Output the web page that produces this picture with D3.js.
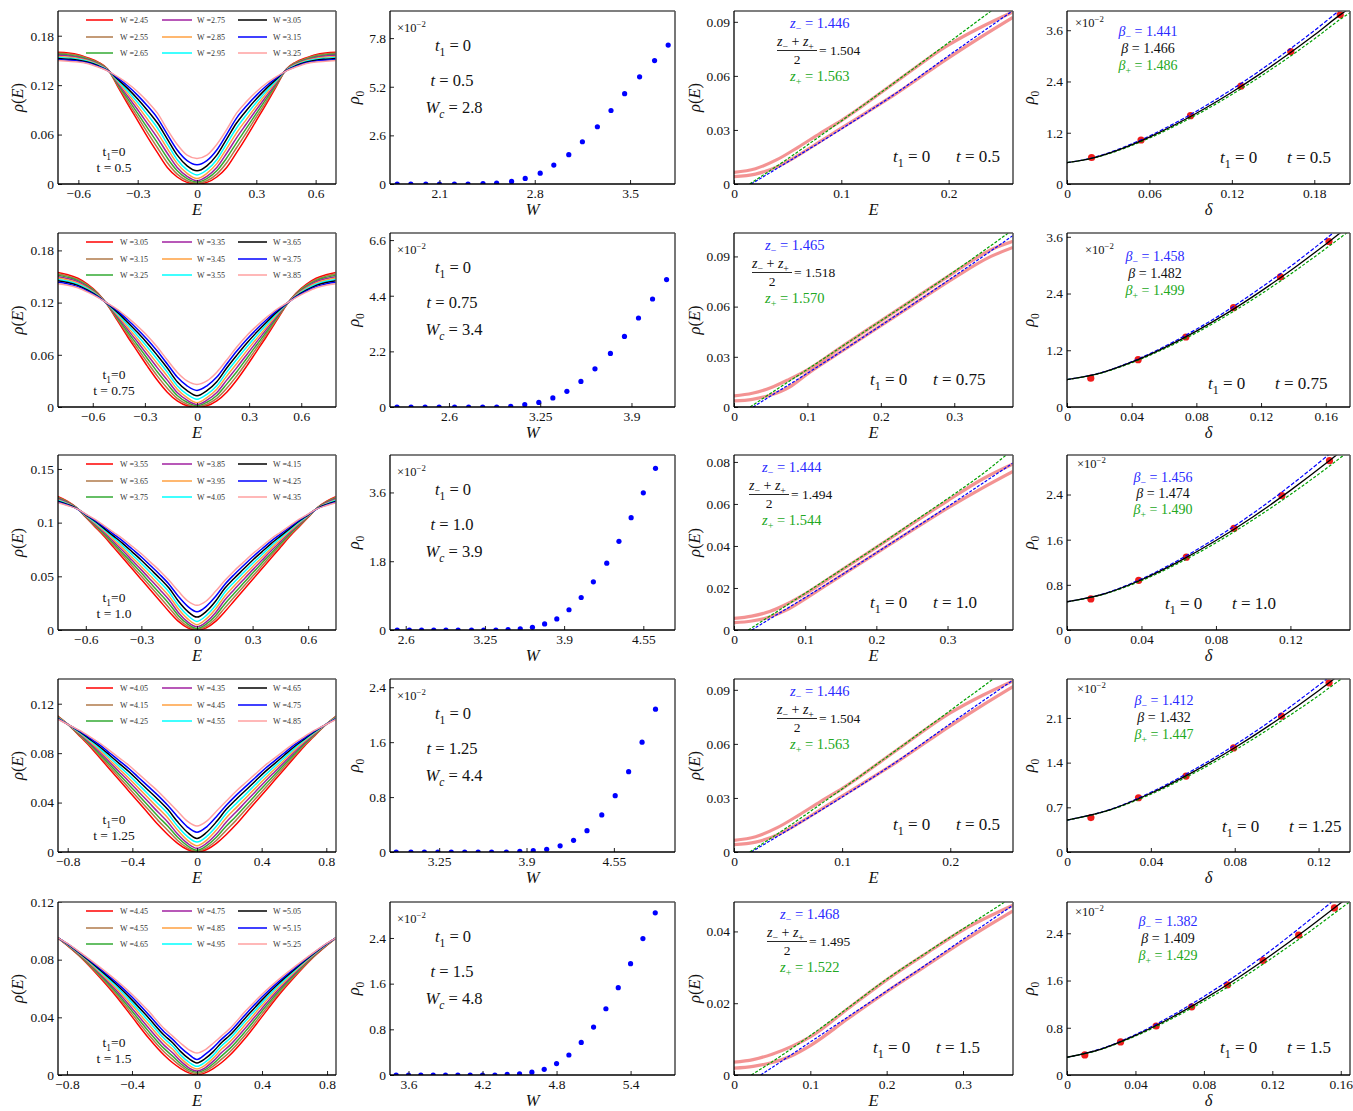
<!DOCTYPE html>
<html><head><meta charset="utf-8">
<script src="https://cdn.jsdelivr.net/npm/d3@7"></script>
<style>
body{margin:0;background:#fff;}
svg text{font-family:"Liberation Serif","Times New Roman",serif;}
</style></head><body>
<svg id="c" width="1353" height="1111"></svg>
<script>
// ---------------- DATA ----------------
const tValues = ['0.5','0.75','1.0','1.25','1.5'];
const wcValues = ['2.8','3.4','3.9','4.4','4.8'];
const curveColors = ['#ff0000','#b07a4a','#33aa33','#a020a0','#ffa040','#00ffff','#000000','#0000ff','#ffa0a0'];

// column 1: rho(E) curves, E >= 0 (curves are symmetric); rows = E slices, columns = W
const legendW1 = ['2.45','2.55','2.65','2.75','2.85','2.95','3.05','3.15','3.25'];
const legendW2 = ['3.05','3.15','3.25','3.35','3.45','3.55','3.65','3.75','3.85'];
const legendW3 = ['3.55','3.65','3.75','3.85','3.95','4.05','4.15','4.25','4.35'];
const legendW4 = ['4.05','4.15','4.25','4.35','4.45','4.55','4.65','4.75','4.85'];
const legendW5 = ['4.45','4.55','4.65','4.75','4.85','4.95','5.05','5.15','5.25'];

const dosE1 = [0,.05,.1,.15,.2,.25,.3,.35,.4,.45,.5,.55,.6,.65,.71];
const dosRho1 = [
 [0,.001,.0025,.004,.0067,.011,.016,.0235,.031],
 [.002,.004,.0066,.0093,.0129,.0172,.0221,.0284,.035],
 [.0085,.012,.016,.020,.0247,.0294,.035,.0413,.048],
 [.020,.0258,.0315,.0373,.043,.0488,.0545,.0603,.066],
 [.038,.044,.050,.056,.062,.068,.074,.080,.086],
 [.057,.0624,.0678,.0731,.0785,.0839,.0893,.0946,.100],
 [.077,.0814,.0858,.0901,.0945,.0989,.1033,.1076,.112],
 [.097,.1001,.1033,.1064,.1095,.1126,.1158,.1189,.122],
 [.118,.1195,.121,.1225,.124,.1255,.127,.1285,.130],
 [.139,.1388,.1385,.1383,.138,.1378,.1375,.1373,.137],
 [.148,.1473,.1465,.1458,.145,.1443,.1435,.1428,.142],
 [.153,.1521,.1513,.1504,.1495,.1486,.1478,.1469,.146],
 [.157,.1559,.1548,.1536,.1525,.1514,.1503,.1491,.148],
 [.159,.1578,.1565,.1553,.154,.1528,.1515,.1503,.149],
 [.160,.1588,.1575,.1563,.155,.1538,.1525,.1513,.150]
];
const dosE2 = [0,.057,.114,.171,.229,.286,.343,.4,.457,.514,.571,.629,.686,.743,.81];
const dosRho2 = [
 [0,.0005,.0015,.003,.005,.009,.013,.019,.026],
 [.0015,.0032,.0055,.0078,.0109,.0146,.0189,.0243,.030],
 [.007,.010,.0133,.0166,.0205,.0245,.0291,.0344,.040],
 [.017,.0216,.0263,.0309,.0355,.0401,.0448,.0494,.054],
 [.031,.0358,.0405,.0453,.050,.0548,.0595,.0643,.069],
 [.047,.0514,.0558,.0601,.0645,.0689,.0733,.0776,.082],
 [.064,.0676,.0713,.0749,.0785,.0821,.0858,.0894,.093],
 [.081,.0838,.0865,.0893,.092,.0948,.0975,.1003,.103],
 [.099,.1006,.1023,.1039,.1055,.1071,.1088,.1104,.112],
 [.117,.1173,.1175,.1178,.118,.1183,.1185,.1188,.119],
 [.131,.1304,.1298,.1291,.1285,.1279,.1273,.1266,.126],
 [.141,.1399,.1388,.1376,.1365,.1354,.1343,.1331,.132],
 [.148,.1466,.1453,.1439,.1425,.1411,.1398,.1384,.137],
 [.152,.1505,.149,.1475,.146,.1445,.143,.1415,.140],
 [.155,.1534,.1518,.1501,.1485,.1469,.1453,.1436,.142]
];
const dosE3 = [0,.05,.1,.15,.2,.25,.3,.35,.4,.45,.5,.55,.6,.65,.7,.76];
const dosRho3 = [
 [0,.0005,.0015,.003,.005,.008,.012,.017,.023],
 [.002,.0035,.0055,.0075,.0103,.0135,.0173,.022,.027],
 [.008,.0105,.0133,.0161,.0195,.0228,.0268,.0312,.036],
 [.017,.0206,.0243,.0279,.0315,.0351,.0388,.0424,.046],
 [.027,.0305,.034,.0375,.041,.0445,.048,.0515,.055],
 [.037,.0403,.0435,.0468,.050,.0533,.0565,.0598,.063],
 [.047,.050,.053,.056,.059,.062,.065,.068,.071],
 [.057,.0596,.0623,.0649,.0675,.0701,.0728,.0754,.078],
 [.067,.0693,.0715,.0738,.076,.0783,.0805,.0828,.085],
 [.077,.0788,.0805,.0823,.084,.0858,.0875,.0893,.091],
 [.087,.0883,.0895,.0908,.092,.0933,.0945,.0958,.097],
 [.096,.0969,.0978,.0986,.0995,.1004,.1013,.1021,.103],
 [.105,.1054,.1058,.1061,.1065,.1069,.1073,.1076,.108],
 [.114,.1139,.1138,.1136,.1135,.1134,.1133,.1131,.113],
 [.120,.1195,.119,.1185,.118,.1175,.117,.1165,.116],
 [.125,.1243,.1235,.1228,.122,.1213,.1205,.1198,.119]
];
const dosE4 = [0,.06,.12,.18,.24,.3,.36,.42,.48,.54,.6,.66,.72,.78,.87];
const dosRho4 = [
 [0,.0005,.0015,.003,.005,.008,.011,.016,.021],
 [.002,.0034,.0052,.0071,.0096,.0126,.016,.0204,.025],
 [.007,.0093,.0119,.0145,.0177,.0208,.0244,.0286,.033],
 [.014,.0174,.0208,.0241,.0275,.0309,.0343,.0376,.041],
 [.022,.0254,.0288,.0321,.0355,.0389,.0423,.0456,.049],
 [.031,.0341,.0373,.0404,.0435,.0466,.0498,.0529,.056],
 [.040,.0429,.0458,.0486,.0515,.0544,.0573,.0601,.063],
 [.049,.0516,.0543,.0569,.0595,.0621,.0648,.0674,.070],
 [.058,.0603,.0625,.0648,.067,.0693,.0715,.0738,.076],
 [.067,.0689,.0708,.0726,.0745,.0764,.0783,.0801,.082],
 [.076,.0775,.079,.0805,.082,.0835,.085,.0865,.088],
 [.085,.086,.087,.088,.089,.090,.091,.092,.093],
 [.093,.0936,.0943,.0949,.0955,.0961,.0968,.0974,.098],
 [.101,.1011,.1013,.1014,.1015,.1016,.1018,.1019,.102],
 [.111,.1106,.1103,.1099,.1095,.1091,.1088,.1084,.108]
];
const dosE5 = [0,.05,.1,.15,.2,.3,.4,.5,.6,.7,.8,.86];
const dosRho5 = [
 [0,.001,.0019,.0028,.0042,.006,.0084,.0108,.0152],
 [.0015,.0025,.0037,.005,.0068,.0089,.0113,.0143,.0175],
 [.0045,.0061,.0078,.0096,.0117,.0138,.0162,.019,.022],
 [.0085,.0108,.0131,.0154,.0178,.0201,.0224,.0247,.027],
 [.0135,.0158,.0181,.0204,.0228,.0251,.0274,.0297,.032],
 [.026,.0283,.0306,.0329,.0353,.0376,.0399,.0422,.0445],
 [.0405,.0424,.0444,.0463,.0483,.0502,.0521,.0541,.056],
 [.055,.0564,.0578,.0591,.0605,.0619,.0633,.0646,.066],
 [.068,.0689,.0698,.0706,.0715,.0724,.0733,.0741,.075],
 [.080,.0804,.0809,.0813,.0818,.0822,.0826,.0831,.0835],
 [.090,.0902,.0904,.0906,.0908,.0909,.0911,.0913,.0915],
 [.0955,.0955,.0955,.0955,.0955,.0955,.0955,.0955,.0955]
];
const dosXTicks1 = [-0.6,-0.3,0,0.3,0.6], dosXTicks4 = [-0.8,-0.4,0,0.4,0.8];
const dosYTicks1 = [0,0.06,0.12,0.18], dosYTicks3 = [0,0.05,0.1,0.15], dosYTicks4 = [0,0.04,0.08,0.12];

// column 2: rho0 (x10^-2) vs W
const rhoW1 = [1.79,1.89,2.0,2.1,2.21,2.31,2.42,2.52,2.63,2.73,2.84,2.94,3.05,3.15,3.26,3.36,3.46,3.57,3.68,3.78];
const rho0W1 = [0,0,0,0,0,0,0.02,0.05,0.14,0.30,0.58,1.01,1.57,2.26,3.06,3.93,4.83,5.73,6.60,7.43];
const rhoW2 = [2.23,2.33,2.43,2.53,2.64,2.74,2.84,2.94,3.04,3.14,3.24,3.34,3.44,3.54,3.64,3.75,3.85,3.95,4.05,4.15];
const rho0W2 = [0,0,0,0,0,0,0,0,0.03,0.09,0.18,0.36,0.62,1.01,1.51,2.12,2.79,3.52,4.27,5.04];
const rhoW3 = [2.53,2.63,2.73,2.83,2.93,3.03,3.14,3.24,3.34,3.44,3.54,3.64,3.74,3.84,3.94,4.04,4.14,4.25,4.35,4.45,4.55,4.65];
const rho0W3 = [0,0,0,0,0,0,0,0,0,0.01,0.03,0.07,0.16,0.29,0.53,0.85,1.26,1.75,2.32,2.94,3.59,4.23];
const rhoW4 = [2.93,3.04,3.14,3.24,3.34,3.44,3.54,3.64,3.75,3.85,3.95,4.05,4.15,4.25,4.35,4.46,4.56,4.66,4.76,4.86];
const rho0W4 = [0,0,0,0,0,0,0,0,0,0.01,0.02,0.04,0.09,0.17,0.31,0.54,0.82,1.17,1.60,2.08];
const rhoW5 = [3.5,3.6,3.7,3.8,3.9,4.0,4.1,4.2,4.3,4.4,4.5,4.6,4.7,4.8,4.9,5.0,5.1,5.2,5.3,5.4,5.5,5.6];
const rho0W5 = [0,0,0,0,0,0,0,0,0,0.01,0.02,0.05,0.10,0.20,0.35,0.57,0.84,1.16,1.53,1.95,2.39,2.84];
const wXTicks = [[2.1,2.8,3.5],[2.6,3.25,3.9],[2.6,3.25,3.9,4.55],[3.25,3.9,4.55],[3.6,4.2,4.8,5.4]];
const wYTicks = [[0,2.6,5.2,7.8],[0,2.2,4.4,6.6],[0,1.8,3.6],[0,0.8,1.6,2.4],[0,0.8,1.6,2.4]];

// column 3: rho(E) near E=0, two DOS curves + two power-law fits ([E, rho])
const nearUpper1 = [[0,.0065],[.02,.0085],[.04,.0135],[.06,.0205],[.08,.028],[.1,.0352],[.15,.0563],[.2,.0772],[.23,.087],[.26,.0955]];
const nearLower1 = [[0,.0041],[.02,.0055],[.04,.0095],[.06,.016],[.08,.0235],[.1,.031],[.15,.0497],[.2,.070],[.23,.0815],[.26,.0925]];
const fitMinus1 = [[.016,0],[.05,.0122],[.1,.0305],[.15,.050],[.2,.0712],[.26,.0962]];
const fitPlus1 = [[.0146,0],[.05,.0140],[.1,.0350],[.15,.0565],[.2,.0785],[.26,.105]];
const nearUpper2 = [[0,.0066],[.025,.0082],[.05,.0115],[.075,.0165],[.1,.0222],[.15,.037],[.2,.0515],[.25,.066],[.3,.0805],[.35,.094],[.38,.099]];
const nearLower2 = [[0,.0036],[.025,.0046],[.05,.0072],[.075,.0118],[.1,.0198],[.15,.0342],[.2,.0486],[.25,.063],[.3,.0772],[.35,.090],[.38,.0954]];
const fitMinus2 = [[.026,0],[.05,.0066],[.1,.0202],[.15,.0343],[.2,.0487],[.25,.0633],[.3,.0782],[.35,.0933],[.38,.1025]];
const fitPlus2 = [[.022,0],[.05,.0082],[.1,.0225],[.15,.037],[.2,.0515],[.25,.066],[.3,.081],[.35,.0965],[.38,.106]];
const nearUpper3 = [[0,.0055],[.025,.0066],[.05,.0088],[.075,.0125],[.1,.0172],[.15,.0283],[.2,.0393],[.25,.0505],[.3,.0615],[.35,.072],[.392,.079]];
const nearLower3 = [[0,.0035],[.025,.0043],[.05,.0062],[.075,.0097],[.1,.0148],[.15,.0258],[.2,.0366],[.25,.0474],[.3,.058],[.35,.0678],[.392,.0755]];
const fitMinus3 = [[.025,0],[.05,.0052],[.1,.0155],[.15,.026],[.2,.0368],[.25,.0477],[.3,.0587],[.35,.070],[.392,.0795]];
const fitPlus3 = [[.02,0],[.05,.0065],[.1,.0175],[.15,.0285],[.2,.0395],[.25,.051],[.3,.0625],[.35,.0745],[.392,.086]];
const nearUpper5 = [[0,.0036],[.025,.0043],[.05,.0058],[.075,.0079],[.1,.0106],[.15,.0186],[.2,.0265],[.25,.0336],[.3,.0404],[.3655,.0473]];
const nearLower5 = [[0,.0019],[.025,.0024],[.05,.0035],[.075,.0053],[.1,.0082],[.15,.0158],[.2,.0232],[.25,.0302],[.3,.0372],[.3655,.0457]];
const fitMinus5 = [[.035,0],[.05,.0021],[.1,.0092],[.15,.0163],[.2,.0234],[.25,.0305],[.3,.0378],[.3655,.0473]];
const fitPlus5 = [[.0227,0],[.05,.0037],[.1,.011],[.15,.0188],[.2,.0267],[.25,.0338],[.3,.0407],[.3546,.0482],[.3655,.0497]];
const zMinus = ['1.446','1.465','1.444','1.446','1.468'];
const zMean = ['1.504','1.518','1.494','1.504','1.495'];
const zPlus = ['1.563','1.570','1.544','1.563','1.522'];
const nearT = ['0.5','0.75','1.0','0.5','1.5'];
const nearXTicks = [[0,0.1,0.2],[0,0.1,0.2,0.3],[0,0.1,0.2,0.3],[0,0.1,0.2],[0,0.1,0.2,0.3]];
const nearYTicks = [[0,0.03,0.06,0.09],[0,0.03,0.06,0.09],[0,0.02,0.04,0.06,0.08],[0,0.03,0.06,0.09],[0,0.02,0.04]];

// column 4: rho0 (x10^-2) vs delta, points and fits
const deltaGrid1 = [0,.02,.04,.06,.08,.1,.12,.14,.16,.18,.2,.207];
const betaFit1 = [.5,.619,.829,1.097,1.41,1.762,2.149,2.567,3.013,3.487,3.988,4.142];
const betaMinusFit1 = [.5,.625,.845,1.125,1.45,1.815,2.215,2.645,3.105,3.59,4.10,4.26];
const betaPlusFit1 = [.5,.614,.815,1.075,1.38,1.72,2.095,2.50,2.935,3.395,3.88,4.03];
const deltaPts1 = [.0179,.0539,.0899,.1266,.1629,.1989];
const rho0Pts1 = [.62,1.03,1.60,2.29,3.10,3.96];
const deltaGrid2 = [0,.02,.04,.06,.08,.1,.12,.14,.16,.176];
const betaFit2 = [.58,.711,.947,1.25,1.605,2.006,2.451,2.929,3.444,3.87];
const betaMinusFit2 = [.58,.715,.96,1.275,1.645,2.06,2.525,3.02,3.555,4.0];
const betaPlusFit2 = [.58,.707,.935,1.228,1.57,1.96,2.39,2.855,3.35,3.76];
const deltaPts2 = [.0147,.044,.0735,.103,.132,.162];
const rho0Pts2 = [.61,1.0,1.48,2.10,2.75,3.50];
const deltaGrid3 = [0,.02,.04,.06,.08,.1,.12,.14,.153];
const betaFit3 = [.5,.64,.89,1.211,1.585,2.007,2.473,2.975,3.32];
const betaMinusFit3 = [.5,.645,.905,1.24,1.63,2.07,2.56,3.09,3.45];
const betaPlusFit3 = [.5,.635,.875,1.185,1.545,1.955,2.40,2.88,3.21];
const deltaPts3 = [.0128,.0385,.0641,.0897,.1154,.141];
const rho0Pts3 = [.55,.88,1.29,1.80,2.38,3.0];
const deltaGrid4 = [0,.02,.04,.06,.08,.1,.12,.136];
const betaFit4 = [.5,.656,.92,1.252,1.633,2.06,2.527,2.93];
const betaMinusFit4 = [.5,.66,.935,1.28,1.675,2.12,2.61,3.03];
const betaPlusFit4 = [.5,.652,.905,1.225,1.595,2.005,2.45,2.84];
const deltaPts4 = [.0114,.0341,.0568,.0795,.1023,.125];
const rho0Pts4 = [.54,.85,1.19,1.63,2.13,2.65];
const deltaGrid5 = [0,.02,.04,.06,.08,.1,.12,.14,.16,.166];
const betaFit5 = [.3,.44,.671,.957,1.285,1.648,2.045,2.468,2.914,3.05];
const betaMinusFit5 = [.3,.445,.685,.985,1.33,1.71,2.13,2.585,3.06,3.21];
const betaPlusFit5 = [.3,.435,.66,.935,1.25,1.60,1.985,2.39,2.82,2.95];
const deltaPts5 = [.0104,.0313,.0521,.0729,.0938,.1146,.1354,.1563];
const rho0Pts5 = [.34,.56,.83,1.155,1.525,1.94,2.37,2.83];
const betaMinus = ['1.441','1.458','1.456','1.412','1.382'];
const betaMid = ['1.466','1.482','1.474','1.432','1.409'];
const betaPlus = ['1.486','1.499','1.490','1.447','1.429'];
const dXTicks = [[0,0.06,0.12,0.18],[0,0.04,0.08,0.12,0.16],[0,0.04,0.08,0.12],[0,0.04,0.08,0.12],[0,0.04,0.08,0.12,0.16]];
const dYTicks = [[0,1.2,2.4,3.6],[0,1.2,2.4,3.6],[0,0.8,1.6,2.4],[0,0.7,1.4,2.1],[0,0.8,1.6,2.4]];

// ---------------- LAYOUT ----------------
const colX = [[58,336],[390,675],[734,1013],[1067,1350]];
const rowY = [[11,184],[233,407],[455,630],[679,852],[902,1075]];
const BLUE_T = '#2a2aff', GREEN_T = '#22a822';

const svg = d3.select('#c');
const defs = svg.append('defs');
let clipN = 0;
const fmt = v => (v < 0 ? '\u2212' : '') + String(+Math.abs(v).toFixed(4));

function panel(ci, ri, xd, yd, xt, yt) {
  const [x0, x1] = colX[ci], [y0, y1] = rowY[ri];
  const x = d3.scaleLinear().domain(xd).range([x0, x1]);
  const y = d3.scaleLinear().domain(yd).range([y1, y0]);
  const id = 'clip' + (clipN++);
  defs.append('clipPath').attr('id', id).append('rect')
    .attr('x', x0).attr('y', y0).attr('width', x1 - x0).attr('height', y1 - y0);
  const g = svg.append('g');
  const plot = g.append('g').attr('clip-path', `url(#${id})`);
  const ax = g.append('g').attr('transform', `translate(0,${y1})`)
    .call(d3.axisBottom(x).tickValues(xt).tickSize(-4).tickPadding(4).tickFormat(fmt));
  const ay = g.append('g').attr('transform', `translate(${x0},0)`)
    .call(d3.axisLeft(y).tickValues(yt).tickSize(-4).tickPadding(4).tickFormat(fmt));
  [ax, ay].forEach(a => {
    a.attr('font-family', null).attr('font-size', null);
    a.select('.domain').remove();
    a.selectAll('text').attr('font-size', 13.5).attr('fill', '#111');
    a.selectAll('line').attr('stroke', '#222');
  });
  g.append('line').attr('x1', x0).attr('x2', x1).attr('y1', y0).attr('y2', y0).attr('stroke', '#555').attr('stroke-width', 1.6);
  g.append('line').attr('x1', x1).attr('x2', x1).attr('y1', y0).attr('y2', y1).attr('stroke', '#555').attr('stroke-width', 1.6);
  g.append('line').attr('x1', x0).attr('x2', x1).attr('y1', y1).attr('y2', y1).attr('stroke', '#000').attr('stroke-width', 1.3);
  g.append('line').attr('x1', x0).attr('x2', x0).attr('y1', y0).attr('y2', y1).attr('stroke', '#000').attr('stroke-width', 1.3);
  return {g, plot, x, y, x0, x1, y0, y1};
}

function rich(g, x, y, parts, o = {}) {
  const size = o.size || 14;
  const t = g.append('text').attr('x', x).attr('y', y).attr('font-size', size)
    .attr('fill', o.color || '#111').attr('text-anchor', o.anchor || 'start');
  if (o.transform) t.attr('transform', o.transform);
  let shift = 0;
  parts.forEach(p => {
    const [s, st] = typeof p === 'string' ? [p, ''] : p;
    const target = st.includes('sub') ? 0.28 * size : st.includes('sup') ? -0.42 * size : 0;
    const ts = t.append('tspan').text(s);
    if (target !== shift) { ts.attr('dy', (target - shift).toFixed(2)); shift = target; }
    if (st.includes('i')) ts.attr('font-style', 'italic');
    if (st.includes('sub') || st.includes('sup')) ts.attr('font-size', size * 0.7);
  });
  return t;
}

function axisLabels(P, xParts, yParts, yx) {
  rich(P.g, (P.x0 + P.x1) / 2, P.y1 + 31, xParts, {size: 16.5, anchor: 'middle'});
  const cy = (P.y0 + P.y1) / 2;
  rich(P.g, 0, 0, yParts, {size: 16.5, anchor: 'middle', transform: `translate(${yx},${cy}) rotate(-90)`});
}

const lineGen = (P, curve) => d3.line().x(d => P.x(d[0])).y(d => P.y(d[1])).curve(curve || d3.curveMonotoneX);

// ---------------- COLUMN 1 ----------------
const dosPanels = [
  {E: dosE1, R: dosRho1, W: legendW1, xd: [-0.703, 0.703], yd: [0, 0.21], xt: dosXTicks1, yt: dosYTicks1},
  {E: dosE2, R: dosRho2, W: legendW2, xd: [-0.8, 0.8], yd: [0, 0.2], xt: dosXTicks1, yt: dosYTicks1},
  {E: dosE3, R: dosRho3, W: legendW3, xd: [-0.75, 0.75], yd: [0, 0.163], xt: dosXTicks1, yt: dosYTicks3},
  {E: dosE4, R: dosRho4, W: legendW4, xd: [-0.86, 0.86], yd: [0, 0.140], xt: dosXTicks4, yt: dosYTicks4},
  {E: dosE5, R: dosRho5, W: legendW5, xd: [-0.855, 0.855], yd: [0, 0.12], xt: dosXTicks4, yt: dosYTicks4}
];
dosPanels.forEach((p, r) => {
  const P = panel(0, r, p.xd, p.yd, p.xt, p.yt);
  p.W.forEach((w, j) => {
    const half = p.E.map((e, k) => [e, p.R[k][j]]);
    const full = half.slice(1).reverse().map(d => [-d[0], d[1]]).concat(half);
    P.plot.append('path').attr('d', lineGen(P)(full)).attr('fill', 'none')
      .attr('stroke', curveColors[j]).attr('stroke-width', 1.5);
  });
  const lx = [[28, 55, 62], [104, 134, 139], [180, 209, 215]];
  const ly = [9, 26, 42];
  p.W.forEach((w, j) => {
    const c = Math.floor(j / 3), rr = j % 3;
    const yy = P.y0 + ly[rr];
    P.g.append('line').attr('x1', P.x0 + lx[c][0]).attr('x2', P.x0 + lx[c][1]).attr('y1', yy).attr('y2', yy)
      .attr('stroke', curveColors[j]).attr('stroke-width', 1.5);
    P.g.append('text').attr('x', P.x0 + lx[c][2]).attr('y', yy + 2.8).attr('font-size', 8).attr('fill', '#333').text('W =' + w);
  });
  rich(P.g, P.x0 + 56, P.y1 - 28, ['t', ['1', 'sub'], '=0'], {size: 13.5, anchor: 'middle'});
  rich(P.g, P.x0 + 56, P.y1 - 12, ['t = ' + tValues[r]], {size: 13.5, anchor: 'middle'});
  axisLabels(P, [['E', 'i']], [['ρ', 'i'], '(', ['E', 'i'], ')'], 23);
});

// ---------------- COLUMN 2 ----------------
const wPanels = [
  {W: rhoW1, R: rho0W1, xd: [1.737, 3.83], yd: [0, 9.25]},
  {W: rhoW2, R: rho0W2, xd: [2.18, 4.21], yd: [0, 6.88]},
  {W: rhoW3, R: rho0W3, xd: [2.471, 4.81], yd: [0, 4.58]},
  {W: rhoW4, R: rho0W4, xd: [2.884, 5.005], yd: [0, 2.52]},
  {W: rhoW5, R: rho0W5, xd: [3.45, 5.76], yd: [0, 3.03]}
];
wPanels.forEach((p, r) => {
  const P = panel(1, r, p.xd, p.yd, wXTicks[r], wYTicks[r]);
  P.plot.selectAll('circle').data(p.W.map((w, i) => [w, p.R[i]])).join('circle')
    .attr('cx', d => P.x(d[0])).attr('cy', d => P.y(d[1])).attr('r', 2.6).attr('fill', '#0000ff');
  rich(P.g, P.x0 + 7, P.y0 + 21, ['×10', ['−2', 'sup']], {size: 12.5});
  rich(P.g, P.x0 + 63, P.y0 + 40, [['t', 'i'], ['1', 'sub'], ' = 0'], {size: 16.5, anchor: 'middle'});
  rich(P.g, P.x0 + 62, P.y0 + 75, [['t', 'i'], ' = ' + tValues[r]], {size: 16.5, anchor: 'middle'});
  rich(P.g, P.x0 + 64, P.y0 + 102, [['W', 'i'], ['c', 'isub'], ' = ' + wcValues[r]], {size: 16.5, anchor: 'middle'});
  axisLabels(P, [['W', 'i']], [['ρ', 'i'], ['0', 'sub']], 359);
});

// ---------------- COLUMN 3 ----------------
const nearPanels = [
  {U: nearUpper1, L: nearLower1, FM: fitMinus1, FP: fitPlus1, xd: [0, 0.26], yd: [0, 0.096], tx: 56, tt: 159},
  {U: nearUpper2, L: nearLower2, FM: fitMinus2, FP: fitPlus2, xd: [0, 0.38], yd: [0, 0.104], tx: 31, tt: 136},
  {U: nearUpper3, L: nearLower3, FM: fitMinus3, FP: fitPlus3, xd: [0, 0.392], yd: [0, 0.0833], tx: 28, tt: 136},
  {U: nearUpper1, L: nearLower1, FM: fitMinus1, FP: fitPlus1, xd: [0, 0.258], yd: [0, 0.096], tx: 56, tt: 159},
  {U: nearUpper5, L: nearLower5, FM: fitMinus5, FP: fitPlus5, xd: [0, 0.3655], yd: [0, 0.0482], tx: 46, tt: 139}
];
nearPanels.forEach((p, r) => {
  const P = panel(2, r, p.xd, p.yd, nearXTicks[r], nearYTicks[r]);
  [p.U, p.L].forEach(d => P.plot.append('path').attr('d', lineGen(P)(d)).attr('fill', 'none')
    .attr('stroke', '#f07878').attr('stroke-opacity', 0.8).attr('stroke-width', 3.2));
  P.plot.append('path').attr('d', lineGen(P)(p.FM)).attr('fill', 'none').attr('stroke', '#0000ff')
    .attr('stroke-width', 1.2).attr('stroke-dasharray', '3,1.6');
  P.plot.append('path').attr('d', lineGen(P)(p.FP)).attr('fill', 'none').attr('stroke', '#00a000')
    .attr('stroke-width', 1.2).attr('stroke-dasharray', '3,1.6');
  const bx = P.x0 + p.tx;
  rich(P.g, bx, P.y0 + 17, [['z', 'i'], ['−', 'sub'], ' = ' + zMinus[r]], {size: 14.5, color: BLUE_T});
  rich(P.g, bx - 13, P.y0 + 35, [['z', 'i'], ['−', 'sub'], ' + ', ['z', 'i'], ['+', 'sub']], {size: 14});
  P.g.append('line').attr('x1', bx - 13).attr('x2', bx + 27).attr('y1', P.y0 + 39.5).attr('y2', P.y0 + 39.5)
    .attr('stroke', '#111').attr('stroke-width', 0.9);
  rich(P.g, bx + 7, P.y0 + 53, ['2'], {size: 13.5, anchor: 'middle'});
  rich(P.g, bx + 29, P.y0 + 44, ['= ' + zMean[r]], {size: 13.5});
  rich(P.g, bx, P.y0 + 70, [['z', 'i'], ['+', 'sub'], ' = ' + zPlus[r]], {size: 14.5, color: GREEN_T});
  rich(P.g, P.x0 + p.tt, P.y1 - 22, [['t', 'i'], ['1', 'sub'], ' = 0'], {size: 17});
  rich(P.g, P.x0 + p.tt + 63, P.y1 - 22, [['t', 'i'], ' = ' + nearT[r]], {size: 17});
  axisLabels(P, [['E', 'i']], [['ρ', 'i'], '(', ['E', 'i'], ')'], 700);
});

// ---------------- COLUMN 4 ----------------
const dPanels = [
  {G: deltaGrid1, B: betaFit1, BM: betaMinusFit1, BP: betaPlusFit1, dx: deltaPts1, dy: rho0Pts1, xd: [0, 0.206], yd: [0, 4.05],
   xt10: [8, 16], bc: 81, by: [25, 42, 59], tt: [153, -21]},
  {G: deltaGrid2, B: betaFit2, BM: betaMinusFit2, BP: betaPlusFit2, dx: deltaPts2, dy: rho0Pts2, xd: [0, 0.175], yd: [0, 3.68],
   xt10: [18, 21], bc: 88, by: [28, 45, 62], tt: [141, -18]},
  {G: deltaGrid3, B: betaFit3, BM: betaMinusFit3, BP: betaPlusFit3, dx: deltaPts3, dy: rho0Pts3, xd: [0, 0.152], yd: [0, 3.1],
   xt10: [10, 13], bc: 96, by: [27, 43, 59], tt: [98, -21]},
  {G: deltaGrid4, B: betaFit4, BM: betaMinusFit4, BP: betaPlusFit4, dx: deltaPts4, dy: rho0Pts4, xd: [0, 0.135], yd: [0, 2.71],
   xt10: [10, 14], bc: 97, by: [26, 43, 60], tt: [155, -20]},
  {G: deltaGrid5, B: betaFit5, BM: betaMinusFit5, BP: betaPlusFit5, dx: deltaPts5, dy: rho0Pts5, xd: [0, 0.1654], yd: [0, 2.93],
   xt10: [8, 14], bc: 101, by: [24, 41, 58], tt: [153, -22]}
];
dPanels.forEach((p, r) => {
  const P = panel(3, r, p.xd, p.yd, dXTicks[r], dYTicks[r]);
  P.plot.selectAll('circle').data(p.dx.map((d, i) => [d, p.dy[i]])).join('circle')
    .attr('cx', d => P.x(d[0])).attr('cy', d => P.y(d[1])).attr('r', 3.6).attr('fill', '#ee1c1c');
  const pts = arr => p.G.map((d, i) => [d, arr[i]]);
  P.plot.append('path').attr('d', lineGen(P)(pts(p.BM))).attr('fill', 'none').attr('stroke', '#0000ff')
    .attr('stroke-width', 1.2).attr('stroke-dasharray', '4,1.8');
  P.plot.append('path').attr('d', lineGen(P)(pts(p.BP))).attr('fill', 'none').attr('stroke', '#00a000')
    .attr('stroke-width', 1.2).attr('stroke-dasharray', '3,1.8');
  P.plot.append('path').attr('d', lineGen(P)(pts(p.B))).attr('fill', 'none').attr('stroke', '#000')
    .attr('stroke-width', 1.3);
  rich(P.g, P.x0 + p.xt10[0], P.y0 + p.xt10[1], ['×10', ['−2', 'sup']], {size: 12.5});
  rich(P.g, P.x0 + p.bc, P.y0 + p.by[0], [['β', 'i'], ['−', 'sub'], ' = ' + betaMinus[r]], {size: 14, anchor: 'middle', color: BLUE_T});
  rich(P.g, P.x0 + p.bc, P.y0 + p.by[1], [['β', 'i'], ' = ' + betaMid[r]], {size: 14, anchor: 'middle'});
  rich(P.g, P.x0 + p.bc, P.y0 + p.by[2], [['β', 'i'], ['+', 'sub'], ' = ' + betaPlus[r]], {size: 14, anchor: 'middle', color: GREEN_T});
  rich(P.g, P.x0 + p.tt[0], P.y1 + p.tt[1], [['t', 'i'], ['1', 'sub'], ' = 0'], {size: 17});
  rich(P.g, P.x0 + p.tt[0] + 67, P.y1 + p.tt[1], [['t', 'i'], ' = ' + tValues[r]], {size: 17});
  axisLabels(P, [['δ', 'i']], [['ρ', 'i'], ['0', 'sub']], 1034);
});
</script></body></html>
